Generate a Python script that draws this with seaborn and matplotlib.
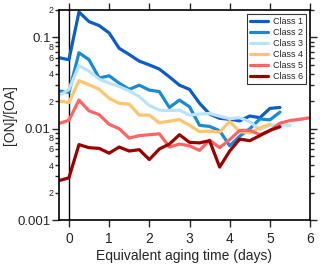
import numpy as np
import pandas as pd
import matplotlib
matplotlib.use("Agg")
import matplotlib.pyplot as plt
import matplotlib.ticker as mticker
import seaborn as sns

step = 0.25
class1 = [0.060, 0.057, 0.19, 0.149, 0.135, 0.112, 0.076, 0.065, 0.055, 0.050, 0.045, 0.037,
          0.030, 0.027, 0.019, 0.0145, 0.013, 0.0127, 0.0122, 0.0138, 0.0132, 0.0167, 0.0171]
class2 = [0.026, 0.025, 0.068, 0.057, 0.036, 0.038, 0.0316, 0.027, 0.030, 0.0265, 0.0255, 0.0171,
          0.0206, 0.0174, 0.0109, 0.0106, 0.0095, 0.0065, 0.0083, 0.0100, 0.0128, 0.0125, 0.0152]
class3 = [0.023, 0.027, 0.049, 0.0427, 0.035, 0.0316, 0.029, 0.026, 0.0225, 0.018, 0.016, 0.0158,
          0.016, 0.0141, 0.0145, 0.0147, 0.0137, 0.0129, 0.0132, 0.0119, 0.0098, 0.0109, 0.011, 0.0109]
class4 = [0.0201, 0.0194, 0.0336, 0.0303, 0.0271, 0.0216, 0.019, 0.0186, 0.0141, 0.0141, 0.0116, 0.0121,
          0.0126, 0.0109, 0.0093, 0.0094, 0.0092, 0.0120, 0.0093, 0.0090, 0.0102, 0.0112]
class5 = [0.0114, 0.0124, 0.0206, 0.0157, 0.0143, 0.0112, 0.0100, 0.0079, 0.0084, 0.0086, 0.0088, 0.0063,
          0.0068, 0.0065, 0.0058, 0.0075, 0.0062, 0.0076, 0.0096, 0.0096, 0.0086, 0.0095, 0.0115, 0.0123,
          0.0127, 0.0132]
class6 = [0.0027, 0.0029, 0.0067, 0.0062, 0.0061, 0.0054, 0.0063, 0.0057, 0.0059, 0.0046, 0.0060, 0.0068,
          0.0086, 0.0071, 0.0070, 0.0074, 0.0038, 0.0057, 0.0077, 0.0074, 0.0084, 0.0096, 0.0105]
labels = ["Class 1", "Class 2", "Class 3", "Class 4", "Class 5", "Class 6"]
colors = ["#0b5ec5", "#1a8ad4", "#b9e3f8", "#fec56e", "#fd6565", "#9a0000"]
x_ticks = [0, 1, 2, 3, 4, 5, 6]

series = [class1, class2, class3, class4, class5, class6]
frames = []
for lab, vals in zip(labels, series):
    t = -0.25 + step * np.arange(len(vals))
    frames.append(pd.DataFrame({"t": t, "v": vals, "cls": lab}))
df = pd.concat(frames, ignore_index=True)

sns.set_style("ticks")
plt.rcParams["font.family"] = ["Liberation Sans", "DejaVu Sans"]

fig = plt.figure(figsize=(3.2, 2.69), dpi=100)
ax = fig.add_axes([0.184, 0.182, 0.785, 0.781])

sns.lineplot(data=df, x="t", y="v", hue="cls", palette=dict(zip(labels, colors)),
             estimator=None, sort=False, lw=2.3, ax=ax, legend=True)

ax.axvline(0, color="black", lw=1.0, zorder=0)
ax.set_yscale("log")
ax.set_xlim(-0.25, 6)
ax.set_ylim(0.001, 0.2)
ax.set_xticks(x_ticks)
ax.set_xticklabels([str(v) for v in x_ticks], fontsize=10)

ax.yaxis.set_major_locator(mticker.FixedLocator([0.001, 0.01, 0.1]))
ax.yaxis.set_major_formatter(mticker.FixedFormatter(["0.001", "0.01", "0.1"]))
minors = [m * 10.0 ** e for e in (-3, -2, -1) for m in range(2, 10) if m * 10.0 ** e <= 0.2001]
ax.yaxis.set_minor_locator(mticker.FixedLocator(minors))

def minor_fmt(v, pos):
    m = int(round(v / 10 ** np.floor(np.log10(v) + 1e-9)))
    return str(m) if m in (2, 4, 6, 8) else ""

ax.yaxis.set_minor_formatter(mticker.FuncFormatter(minor_fmt))
ax.tick_params(axis="y", which="major", labelsize=9.5, length=5, width=1, direction="out",
               left=True, right=True, pad=1)
ax.tick_params(axis="y", which="minor", labelsize=6.5, length=3, width=1, direction="out",
               left=True, right=True, pad=1)
ax.tick_params(axis="x", which="major", length=5, width=1, direction="out", top=True, bottom=True)

for s in ax.spines.values():
    s.set_visible(True)
    s.set_linewidth(1.2)
    s.set_color("black")

ax.set_xlabel("Equivalent aging time (days)", fontsize=10, labelpad=2)
ax.set_ylabel("[ON]/[OA]", fontsize=10, labelpad=0)

leg = ax.legend(loc="upper right", fontsize=6.5, frameon=True, fancybox=False, edgecolor="black",
                handlelength=2.0, handletextpad=0.5, labelspacing=0.22, borderaxespad=0.45,
                borderpad=0.35)
leg.get_frame().set_linewidth(0.8)
for h in leg.get_lines():
    h.set_linewidth(2.3)

fig.savefig("out.png", dpi=100)
